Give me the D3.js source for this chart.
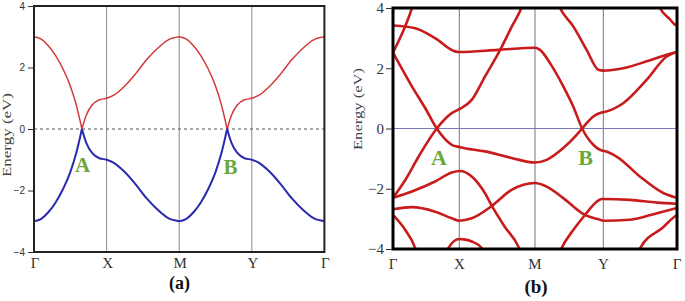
<!DOCTYPE html>
<html>
<head>
<meta charset="utf-8">
<script src="https://cdn.jsdelivr.net/npm/d3@7"></script>
<style>
  body { margin: 0; background: #fff; }
  text { font-family: "Liberation Serif", "Times New Roman", serif; }
</style>
</head>
<body>
<svg id="chart" width="685" height="301"></svg>
<script>
// high-symmetry path, same for both panels
const kNodes = [0, 1, 2, 3, 4];
const kLabels = ["Γ", "X", "M", "Y", "Γ"];
const energyTicks = [-4, -2, 0, 2, 4];

// panel (a): two bands, split at the Dirac points so the cones stay sharp
const bandUpperA = [
    [[0, 3.0], [0.1, 2.92], [0.2, 2.7], [0.3, 2.38], [0.4, 1.95], [0.5, 1.4], [0.58, 0.8], [0.66, 0]],
    [[0.66, 0], [0.72, 0.45], [0.8, 0.78], [0.9, 0.95], [1.0, 1.0], [1.1, 1.1], [1.25, 1.4], [1.4, 1.8], [1.55, 2.25], [1.7, 2.62], [1.85, 2.9], [2.0, 3.0]],
    [[2.0, 3.0], [2.1, 2.92], [2.2, 2.7], [2.3, 2.38], [2.4, 1.95], [2.5, 1.4], [2.58, 0.8], [2.66, 0]],
    [[2.66, 0], [2.72, 0.45], [2.8, 0.78], [2.9, 0.95], [3.0, 1.0], [3.1, 1.1], [3.25, 1.4], [3.4, 1.8], [3.55, 2.25], [3.7, 2.62], [3.85, 2.9], [4.0, 3.0]]
];
const bandLowerA = [
    [[0, -3.0], [0.1, -2.92], [0.2, -2.7], [0.3, -2.38], [0.4, -1.95], [0.5, -1.4], [0.58, -0.8], [0.66, 0]],
    [[0.66, 0], [0.72, -0.45], [0.8, -0.78], [0.9, -0.95], [1.0, -1.0], [1.1, -1.1], [1.25, -1.4], [1.4, -1.8], [1.55, -2.25], [1.7, -2.62], [1.85, -2.9], [2.0, -3.0]],
    [[2.0, -3.0], [2.1, -2.92], [2.2, -2.7], [2.3, -2.38], [2.4, -1.95], [2.5, -1.4], [2.58, -0.8], [2.66, 0]],
    [[2.66, 0], [2.72, -0.45], [2.8, -0.78], [2.9, -0.95], [3.0, -1.0], [3.1, -1.1], [3.25, -1.4], [3.4, -1.8], [3.55, -2.25], [3.7, -2.62], [3.85, -2.9], [4.0, -3.0]]
];

// panel (b): DFT bands
const bandsB = [
    [[0, 3.42], [0.335, 3.33], [0.635, 3.0], [0.935, 2.56], [1.0, 2.54], [1.51, 2.61], [2.0, 2.68], [2.073, 2.61], [2.22, 2.17], [2.414, 1.40], [2.56, 0.73], [2.69, 0], [2.854, -0.54], [2.977, -0.73], [3.0, -0.74], [3.18, -0.93], [3.5, -1.6], [3.82, -2.15], [4.0, -2.3]],
    [[0, 2.52], [0.285, 1.40], [0.485, 0.68], [0.66, 0], [0.886, -0.54], [1.01, -0.62], [1.34, -0.76], [1.69, -0.98], [2.0, -1.13], [2.171, -1.04], [2.414, -0.65], [2.61, -0.21], [2.69, 0], [2.854, 0.40], [2.977, 0.53], [3.0, 0.54], [3.27, 0.84], [3.59, 1.62], [3.86, 2.39], [4.0, 2.54]],
    [[0, -2.3], [0.188, -1.70], [0.387, -0.93], [0.66, 0], [0.886, 0.51], [1.0, 0.64], [1.164, 0.95], [1.34, 1.73], [1.54, 2.61], [1.695, 3.39], [1.827, 4.03], [1.87, 4.3]],
    [[0, 2.52], [0.185, 3.4], [0.285, 4.0], [0.32, 4.3]],
    [[2.31, 4.3], [2.366, 4.0], [2.56, 3.39], [2.756, 2.61], [2.927, 1.95], [3.0, 1.92], [3.27, 2.0], [3.59, 2.23], [3.86, 2.45], [4.0, 2.54]],
    [[3.72, 4.3], [3.77, 4.0], [3.91, 3.61], [3.96, 3.47], [4.0, 3.42]],
    [[0, -2.3], [0.285, -2.09], [0.635, -1.76], [0.886, -1.46], [1.01, -1.41], [1.164, -1.59], [1.34, -2.15], [1.43, -2.57], [1.6, -3.26], [1.78, -3.92], [1.84, -4.3]],
    [[0, -2.68], [0.285, -2.61], [0.635, -2.76], [0.886, -2.98], [1.0, -3.06], [1.164, -2.98], [1.43, -2.57], [1.69, -2.04], [2.0, -1.81], [2.171, -1.93], [2.414, -2.31], [2.732, -2.87], [2.952, -3.03], [3.0, -3.06], [3.36, -3.03], [3.73, -2.81], [4.0, -2.64]],
    [[2.33, -4.3], [2.39, -3.97], [2.56, -3.37], [2.732, -2.87], [2.903, -2.43], [2.977, -2.34], [3.0, -2.34], [3.36, -2.37], [3.73, -2.46], [4.0, -2.5]],
    [[3.44, -4.3], [3.5, -3.97], [3.82, -3.26], [3.93, -3.0], [4.0, -2.87]],
    [[0, -2.87], [0.185, -3.37], [0.335, -3.97], [0.38, -4.3]],
    [[0.78, -4.3], [0.835, -3.97], [1.0, -3.67], [1.06, -3.68], [1.164, -3.75], [1.295, -3.97], [1.34, -4.3]]
];

const svg = d3.select("#chart");
const green = "#6ba83a";

// ---------- panel (a) ----------
const xA = d3.scaleLinear().domain(kNodes).range([34, 106.6, 179.2, 251.8, 324.4]);
const yA = d3.scaleLinear().domain([-4, 4]).range([252, 6]);
const gA = svg.append("g");

gA.selectAll(".vline")
    .data(kNodes.slice(1, 4))
    .enter()
    .append("line")
    .attr("x1", (d) => xA(d)).attr("x2", (d) => xA(d))
    .attr("y1", yA(4)).attr("y2", yA(-4))
    .attr("stroke", "#8a8a8a")
    .attr("stroke-width", 1);

gA.append("line")
    .attr("x1", xA(0)).attr("x2", xA(4))
    .attr("y1", yA(0)).attr("y2", yA(0))
    .attr("stroke", "#555")
    .attr("stroke-dasharray", "3,3")
    .attr("stroke-width", 1);

const lineA = d3.line()
    .x((d) => xA(d[0]))
    .y((d) => yA(d[1]))
    .curve(d3.curveMonotoneX);

gA.selectAll(".up")
    .data(bandUpperA)
    .enter()
    .append("path")
    .attr("d", lineA)
    .attr("fill", "none")
    .attr("stroke", "#d13a3a")
    .attr("stroke-width", 1.5);

gA.selectAll(".down")
    .data(bandLowerA)
    .enter()
    .append("path")
    .attr("d", lineA)
    .attr("fill", "none")
    .attr("stroke", "#2a2aae")
    .attr("stroke-width", 2);

gA.append("rect")
    .attr("x", xA(0)).attr("y", yA(4))
    .attr("width", xA(4) - xA(0)).attr("height", yA(-4) - yA(4))
    .attr("fill", "none")
    .attr("stroke", "#222")
    .attr("stroke-width", 2);

const axisA = gA.append("g")
    .attr("transform", `translate(${xA(0) - 1},0)`)
    .call(d3.axisLeft(yA).tickValues(energyTicks).tickSize(5).tickPadding(3).tickFormat(d3.format("d")));
axisA.select(".domain").remove();
axisA.selectAll("line").attr("stroke", "#333");
axisA.selectAll("text")
    .style("font-family", "'Liberation Sans', Arial, sans-serif")
    .style("font-size", "10px")
    .attr("fill", "#333");

gA.selectAll(".klab")
    .data(kNodes)
    .enter()
    .append("text")
    .attr("x", (d) => xA(d) + 1)
    .attr("y", 268)
    .attr("text-anchor", "middle")
    .style("font-size", "15px")
    .attr("fill", "#333")
    .text((d, i) => kLabels[i]);

gA.append("text")
    .attr("transform", "translate(11,135) rotate(-90)")
    .attr("text-anchor", "middle")
    .attr("textLength", 84)
    .attr("lengthAdjust", "spacingAndGlyphs")
    .style("font-size", "12px")
    .attr("fill", "#444")
    .text("Energy (eV)");

gA.selectAll(".dirac")
    .data([["A", 82.5, 172], ["B", 230.5, 174]])
    .enter()
    .append("text")
    .attr("x", (d) => d[1]).attr("y", (d) => d[2])
    .attr("text-anchor", "middle")
    .style("font-size", "21px")
    .style("font-weight", "bold")
    .attr("fill", green)
    .text((d) => d[0]);

gA.append("text")
    .attr("x", 179.5).attr("y", 289)
    .attr("text-anchor", "middle")
    .style("font-size", "18px")
    .style("font-weight", "bold")
    .attr("fill", "#111")
    .text("(a)");

// ---------- panel (b) ----------
const xB = d3.scaleLinear().domain(kNodes).range([393, 459.3, 535, 603.3, 677]);
const yB = d3.scaleLinear().domain([-4, 4]).range([249, 8]);
const gB = svg.append("g");

gB.append("clipPath").attr("id", "clipB")
    .append("rect")
    .attr("x", xB(0)).attr("y", yB(4))
    .attr("width", xB(4) - xB(0)).attr("height", yB(-4) - yB(4));

gB.selectAll(".vline")
    .data(kNodes.slice(1, 4))
    .enter()
    .append("line")
    .attr("x1", (d) => xB(d)).attr("x2", (d) => xB(d))
    .attr("y1", yB(4)).attr("y2", yB(-4))
    .attr("stroke", "#777")
    .attr("stroke-width", 1);

gB.append("line")
    .attr("x1", xB(0)).attr("x2", xB(4))
    .attr("y1", yB(0)).attr("y2", yB(0))
    .attr("stroke", "#7a7ab4")
    .attr("stroke-width", 1);

const lineB = d3.line()
    .x((d) => xB(d[0]))
    .y((d) => yB(d[1]))
    .curve(d3.curveMonotoneX);

gB.append("g")
    .attr("clip-path", "url(#clipB)")
    .selectAll("path")
    .data(bandsB)
    .enter()
    .append("path")
    .attr("d", lineB)
    .attr("fill", "none")
    .attr("stroke", "#c81c1c")
    .attr("stroke-width", 2.6);

gB.append("rect")
    .attr("x", xB(0)).attr("y", yB(4))
    .attr("width", xB(4) - xB(0)).attr("height", yB(-4) - yB(4))
    .attr("fill", "none")
    .attr("stroke", "#000")
    .attr("stroke-width", 3);

const axisB = gB.append("g")
    .attr("transform", `translate(${xB(0) - 1},0)`)
    .call(d3.axisLeft(yB).tickValues(energyTicks).tickSize(6).tickPadding(2).tickFormat(d3.format("d")));
axisB.select(".domain").remove();
axisB.selectAll("line").attr("stroke", "#333");
axisB.selectAll("text")
    .style("font-family", "'Liberation Serif', serif")
    .style("font-size", "15px")
    .attr("fill", "#333");

gB.selectAll(".klab")
    .data(kNodes)
    .enter()
    .append("text")
    .attr("x", (d) => xB(d))
    .attr("y", 269)
    .attr("text-anchor", "middle")
    .style("font-size", "15px")
    .attr("fill", "#333")
    .text((d, i) => kLabels[i]);

gB.append("text")
    .attr("transform", "translate(362,109) rotate(-90)")
    .attr("text-anchor", "middle")
    .attr("textLength", 82)
    .attr("lengthAdjust", "spacingAndGlyphs")
    .style("font-size", "13px")
    .attr("fill", "#444")
    .text("Energy (eV)");

gB.selectAll(".dirac")
    .data([["A", 439, 165], ["B", 585.5, 165]])
    .enter()
    .append("text")
    .attr("x", (d) => d[1]).attr("y", (d) => d[2])
    .attr("text-anchor", "middle")
    .style("font-size", "22px")
    .style("font-weight", "bold")
    .attr("fill", green)
    .text((d) => d[0]);

gB.append("text")
    .attr("x", 536).attr("y", 293)
    .attr("text-anchor", "middle")
    .style("font-size", "19px")
    .style("font-weight", "bold")
    .attr("fill", "#111")
    .text("(b)");
</script>
</body>
</html>
